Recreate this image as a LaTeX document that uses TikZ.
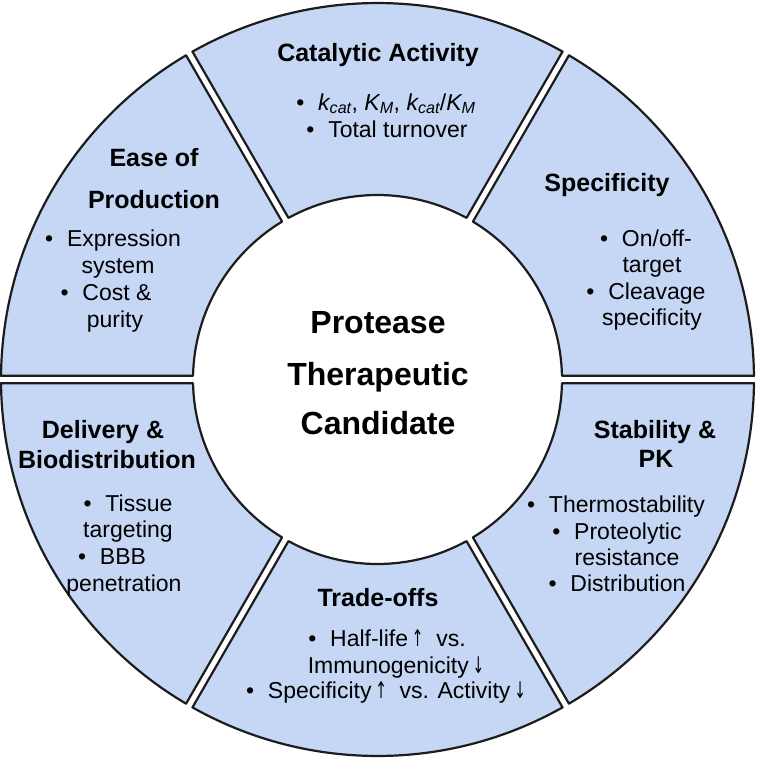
\documentclass[tikz,border=0pt]{standalone}
\usepackage{fontspec}
\usepackage{graphicx}
\setmainfont{Liberation Sans}
\newfontfamily\arrfont{DejaVu Sans}
\definecolor{secfill}{RGB}{197,215,245}
\definecolor{secline}{RGB}{28,28,28}
\newcommand\bulitem{•\hspace{0.6em}}
\newcommand\kc{{\itshape k\textsubscript{cat}}}
\newcommand\KM{{\itshape K\textsubscript{M}}}
\newcommand\upa{\,\scalebox{0.6}[1]{\arrfont ↑}}
\newcommand\dna{\,\scalebox{0.6}[1]{\arrfont ↓}}
\tikzset{
  sector/.style={fill=secfill, draw=secline, line width=2.2pt, line join=round},
  ttl/.style={font=\bfseries\fontsize{25}{29}\selectfont, inner sep=0pt, text height=17.9pt, text depth=0pt, anchor=center},
  txt/.style={font=\fontsize{23}{27}\selectfont, inner sep=0pt, text height=16.5pt, text depth=0pt, anchor=center},
  big/.style={font=\bfseries\fontsize{32}{38}\selectfont, inner sep=0pt, text height=22.9pt, text depth=0pt, anchor=center}
}
\begin{document}
\begin{tikzpicture}[x=1pt,y=-1pt]
\useasboundingbox (0,0) rectangle (756,761);
\def\Ro{376.5pt}\def\Ri{184.5pt}
\def\dO{0.563}\def\dI{1.149}
\begin{scope}[shift={(377.5,379.5)}]
\foreach \a/\nm in {0/spec,60/cat,120/ease,180/deliv,240/trade,300/stab}{
  \pgfmathsetmacro\aone{\a+\dI}
  \pgfmathsetmacro\atwo{\a+\dO}
  \pgfmathsetmacro\athree{\a+60-\dO}
  \pgfmathsetmacro\afour{\a+60-\dI}
  \draw[sector] (\aone:\Ri) -- (\atwo:\Ro) arc[start angle=\atwo, end angle=\athree, radius=\Ro] -- (\afour:\Ri) arc[start angle=\afour, end angle=\aone, radius=\Ri] -- cycle;
}
\end{scope}
% centre
\node[big] (c1) at (378,322) {Protease};
\node[big] (c2) at (378,374) {Therapeutic};
\node[big] (c3) at (378,423) {Candidate};
% catalytic
\node[ttl] (catT) at (378,53) {Catalytic Activity};
\node[txt] (cat1) at (386,102) {\bulitem\kc, \KM, \kc/\KM};
\node[txt] (cat2) at (387,129) {\bulitem Total turnover};
% specificity
\node[ttl] (specT) at (607,183) {Specificity};
\node[txt] (spec1) at (646,238) {\bulitem On/off-};
\node[txt] (spec2) at (652,264) {target};
\node[txt] (spec3) at (646,291) {\bulitem Cleavage};
\node[txt] (spec4) at (652,317) {specificity};
% stability
\node[ttl] (stabT1) at (655,430) {Stability \&};
\node[ttl] (stabT2) at (656,459) {PK};
\node[txt] (stab1) at (616,504) {\bulitem Thermostability};
\node[txt] (stab2) at (617,531) {\bulitem Proteolytic};
\node[txt] (stab3) at (627,557) {resistance};
\node[txt] (stab4) at (617,583) {\bulitem Distribution};
% trade-offs
\node[ttl] (tradeT) at (378,598) {Trade-offs};
\node[txt] (trade1) at (387,638) {\bulitem Half-life\upa\ \ vs.};
\node[txt] (trade2) at (396,665) {Immunogenicity\dna};
\node[txt] (trade3) at (386,690) {\bulitem Specificity\upa\ \ vs. Activity\dna};
% delivery
\node[ttl] (delT1) at (103,430) {Delivery \&};
\node[ttl] (delT2) at (107,460) {Biodistribution};
\node[txt] (del1) at (128,503) {\bulitem Tissue};
\node[txt] (del2) at (128,529) {targeting};
\node[txt] (del3) at (112,556) {\bulitem BBB};
\node[txt] (del4) at (124,583) {penetration};
% ease
\node[ttl] (easeT1) at (154,158) {Ease of};
\node[ttl] (easeT2) at (154,200) {Production};
\node[txt] (ease1) at (113,238) {\bulitem Expression};
\node[txt] (ease2) at (118,265) {system};
\node[txt] (ease3) at (106,292) {\bulitem Cost \&};
\node[txt] (ease4) at (115,319) {purity};
\end{tikzpicture}
\end{document}
